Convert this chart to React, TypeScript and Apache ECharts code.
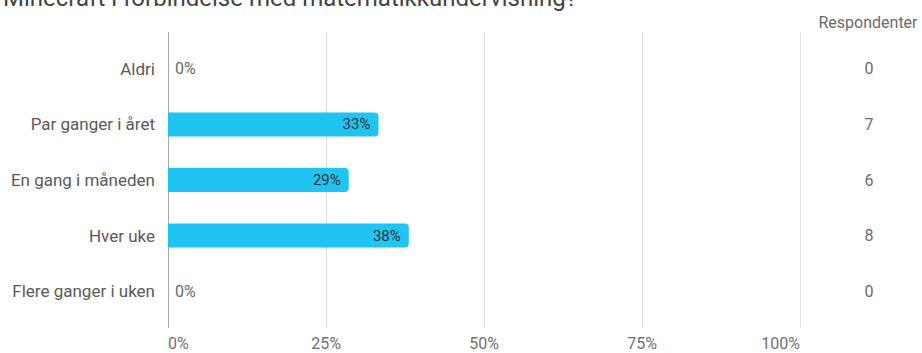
import React, { useEffect, useRef } from "react";
import * as echarts from "echarts";

const titleText = "Minecraft i forbindelse med matematikkundervisning?";
const categories = ["Aldri", "Par ganger i året", "En gang i måneden", "Hver uke", "Flere ganger i uken"];
const percentValues = [0, 33.3, 28.6, 38.1, 0];
const respondents = [0, 7, 6, 8, 0];
const xTicks = [0, 25, 50, 75, 100];

export default function App() {
  const ref = useRef<HTMLDivElement>(null);
  useEffect(() => {
    if (!ref.current) return;
    const chart = echarts.init(ref.current, null, { renderer: "svg" });
    const font = "Roboto, 'Noto Sans', sans-serif";
    chart.setOption({
      animation: false,
      textStyle: { fontFamily: font },
      graphic: [
        {
          type: "text",
          left: 3,
          top: -14,
          style: { text: titleText, fontSize: 24, fontFamily: font, fill: "#444" },
        },
        {
          type: "text",
          x: 868,
          y: 22,
          style: {
            text: "Respondenter",
            fontSize: 16,
            fontFamily: font,
            fill: "#6a6a6a",
            align: "center",
            verticalAlign: "middle",
          },
        },
      ],
      grid: [
        { left: 168, right: 122, top: 32, bottom: 25 },
        { left: 168, right: 122, top: 41, bottom: 34 },
      ],
      xAxis: [
        {
          type: "value",
          gridIndex: 0,
          min: xTicks[0],
          max: xTicks[xTicks.length - 1],
          interval: 25,
          axisLine: { show: false },
          axisTick: { show: false },
          splitLine: { lineStyle: { color: ["#aaa", "#ddd", "#ddd", "#ddd", "#ddd"], width: 1 } },
          axisLabel: {
            formatter: "{value}%",
            color: "#707070",
            fontSize: 16,
            margin: 7,
            alignMinLabel: "left",
            alignMaxLabel: "right",
          },
        },
        {
          type: "value",
          gridIndex: 1,
          min: 0,
          max: 100,
          show: false,
        },
      ],
      yAxis: [
        { type: "value", gridIndex: 0, show: false },
        {
          type: "category",
          gridIndex: 1,
          data: categories,
          inverse: true,
          axisLine: { show: false },
          axisTick: { show: false },
          axisLabel: { color: "#5a5a5a", fontSize: 17, margin: 13 },
        },
        {
          type: "category",
          gridIndex: 1,
          position: "right",
          data: respondents.map(String),
          inverse: true,
          axisLine: { show: false },
          axisTick: { show: false },
          axisLabel: { color: "#6a6a6a", fontSize: 16, margin: 69, align: "center" },
        },
      ],
      series: [
        {
          type: "bar",
          xAxisIndex: 1,
          yAxisIndex: 1,
          barWidth: 24,
          data: percentValues.map((v) => ({
            value: v,
            label:
              v === 0
                ? { show: true, position: "right", distance: 7, color: "#6a6a6a", fontSize: 16 }
                : { show: true, position: "insideRight", distance: 8, color: "#333", fontSize: 15 },
          })),
          itemStyle: {
            color: "#20c4f2",
            borderRadius: [0, 4, 4, 0],
          },
          label: {
            formatter: (p: any) => Math.round(p.value) + "%",
          },
        },
      ],
    });
    return () => chart.dispose();
  }, []);
  return <div ref={ref} style={{ width: 922, height: 353, position: "absolute", left: 0, top: 0 }} />;
}
